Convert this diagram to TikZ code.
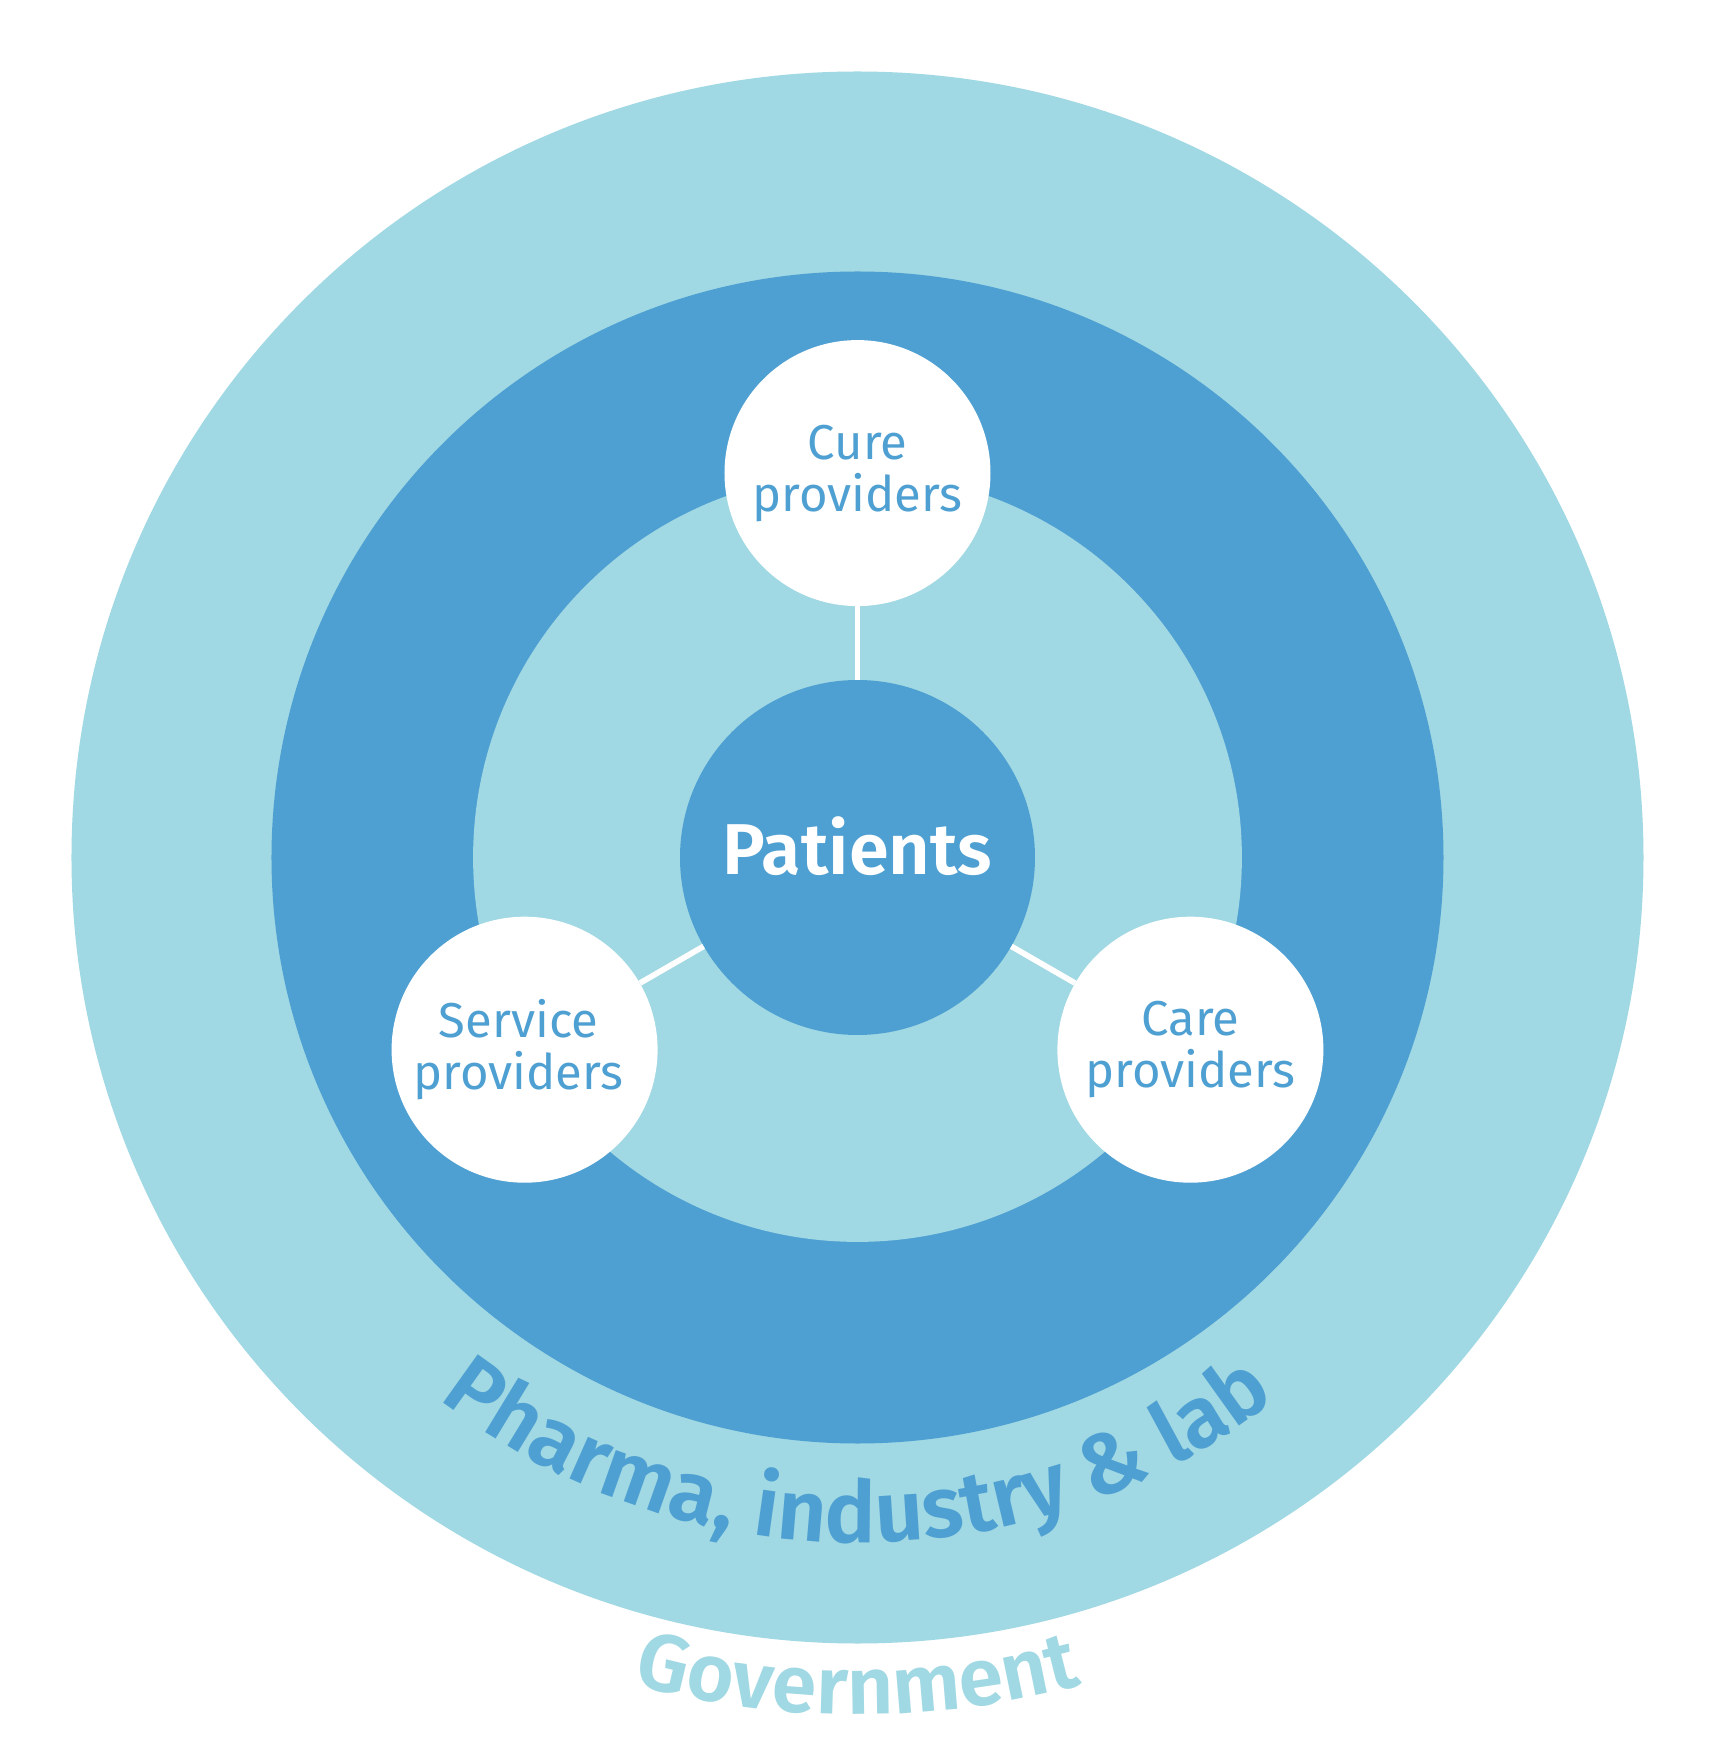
\documentclass[tikz,border=0pt]{standalone}
\usepackage{fontspec}
\setmainfont{Fira Sans}
\newfontfamily\semib{Fira Sans SemiBold}
\usetikzlibrary{decorations.text}
\definecolor{lightb}{RGB}{160,216,227}
\definecolor{darkb}{RGB}{79,160,210}
\begin{document}
\begin{tikzpicture}[x=1pt,y=1pt,
  sat/.style={circle, fill=white, minimum size=266pt, inner sep=0pt, text=darkb,
    align=center, font=\fontsize{49}{52}\selectfont},
  link/.style={draw=white, line width=5.7pt}]
\useasboundingbox (-857.5,-879.5) rectangle (858.5,857.5);
\fill[lightb] (0,0) circle (786);
\fill[darkb] (0,0) circle (586);
\fill[lightb] (0,0) circle (384.4);
\node[circle, fill=darkb, minimum size=355pt, inner sep=0pt, text=white,
  font=\semib\fontsize{72}{72}\selectfont, text height=35pt, text depth=0pt] (pat) at (0,0) {Patients};
\node[sat] (cure) at (90:384.4) {Cure\\providers};
\node[sat] (serv) at (210:384.4) {\hspace*{-12pt}Service\\\hspace*{-12pt}providers};
\node[sat] (care) at (330:384.4) {Care\\providers};
\draw[link] (pat) -- (cure);
\draw[link] (pat) -- (serv);
\draw[link] (pat) -- (care);
\path[decorate, decoration={text along path, text align=center,
  text={|\semib\fontsize{86}{86}\selectfont\color{darkb}|Pharma, industry {\&} lab}}]
  (195:685) arc (195:345:685);
\path[decorate, decoration={text along path, text align=center,
  text={|\semib\fontsize{81}{81}\selectfont\color{lightb}|Government}}]
  (220:857) arc (220:320:857);
\end{tikzpicture}
\end{document}
